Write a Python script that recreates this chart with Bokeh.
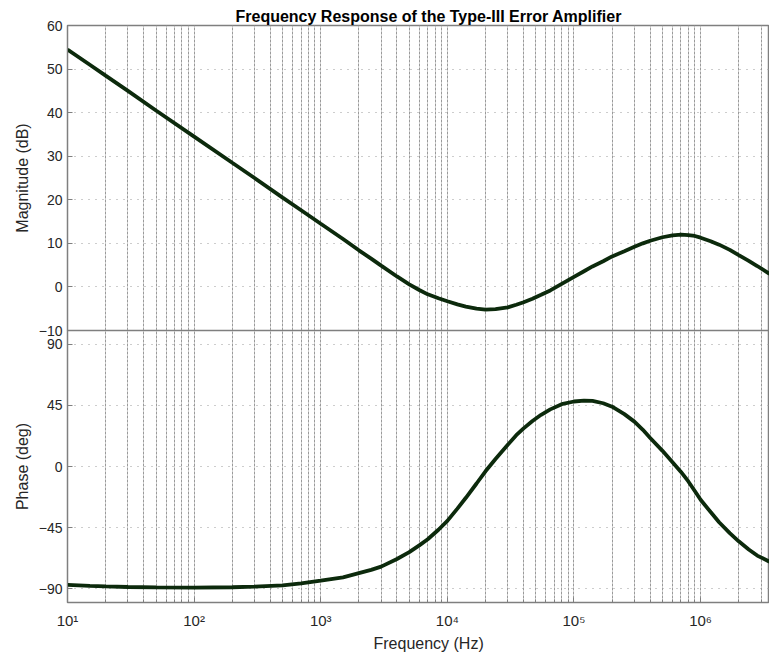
from bokeh.plotting import figure
from bokeh.layouts import column
from bokeh.models import FixedTicker, Title, Range1d
from bokeh.embed import file_html
from bokeh.resources import INLINE

# Bode data of the Type-III compensator
freq_hz = [10, 15, 20, 30, 50, 100, 200, 300, 500, 700,
           1e3, 1.5e3, 2e3, 2.5e3, 3e3, 4e3, 5e3, 6e3, 7e3, 8.5e3,
           1e4, 1.2e4, 1.4e4, 1.7e4, 2e4, 2.4e4, 3e4, 3.5e4, 4e4, 4.7e4,
           5.5e4, 6.5e4, 8e4, 1e5, 1.2e5, 1.4e5, 1.7e5, 2e5, 2.5e5, 3e5,
           3.5e5, 4e5, 5e5, 6e5, 7e5, 8e5, 9e5, 1e6, 1.2e6, 1.4e6,
           1.7e6, 2e6, 2.4e6, 2.8e6, 3.5e6]
magnitude_db = [54.5, 51.0, 48.5, 45.0, 40.5, 34.5, 28.5, 25.0, 20.5, 17.6,
                14.5, 11.0, 8.4, 6.5, 4.9, 2.4, 0.6, -0.7, -1.7, -2.6,
                -3.3, -4.0, -4.5, -5.0, -5.2, -5.1, -4.7, -4.1, -3.5, -2.7,
                -1.8, -0.8, 0.7, 2.3, 3.6, 4.7, 5.9, 7.0, 8.2, 9.2,
                10.0, 10.6, 11.4, 11.85, 12.0, 11.9, 11.7, 11.3, 10.5, 9.7,
                8.5, 7.3, 6.0, 4.8, 3.0]
phase_deg = [-87.0, -87.8, -88.2, -88.6, -88.9, -89.0, -88.8, -88.4, -87.4, -86.0,
             -84.0, -81.5, -78.4, -76.0, -73.6, -68.0, -63.0, -58.0, -53.5, -46.5,
             -40.0, -31.0, -23.0, -12.5, -3.5, 5.5, 16.0, 23.0, 28.0, 33.5,
             38.0, 42.0, 45.8, 47.8, 48.5, 48.2, 46.5, 44.0, 38.5, 33.0,
             27.0, 21.0, 11.5, 3.2, -4.0, -11.0, -18.0, -24.5, -33.5, -41.0,
             -49.0, -55.0, -61.0, -65.5, -70.0]

x_major = [10, 100, 1e3, 1e4, 1e5, 1e6]
x_labels = ["10\u00b9", "10\u00b2", "10\u00b3", "10\u2074", "10\u2075", "10\u2076"]
x_minor = [m * d for d in x_major for m in range(2, 10) if m * d < 3.5e6]
mag_ticks = [-10, 0, 10, 20, 30, 40, 50, 60]
phase_ticks = [-90, -45, 0, 45, 90]

FONT = "Liberation Sans"
TEXT = "#262626"
FRAME = "#7f7f7f"
CURVE = "#0c2a0c"

x_range = Range1d(10, 3.5e6)


def style(p, yticks):
    p.outline_line_color = FRAME
    p.outline_line_width = 1.5
    p.background_fill_color = "white"
    for ax in p.yaxis:
        ax.ticker = FixedTicker(ticks=yticks)
        ax.axis_line_color = FRAME
        ax.major_tick_line_color = FRAME
        ax.major_tick_in = 5
        ax.major_tick_out = 0
        ax.minor_tick_line_color = None
        ax.major_label_text_font = FONT
        ax.major_label_text_font_size = "14px"
        ax.major_label_text_color = TEXT
        ax.major_label_standoff = 5
        ax.axis_label_text_font = FONT
        ax.axis_label_text_font_size = "16px"
        ax.axis_label_text_font_style = "normal"
        ax.axis_label_text_color = TEXT
        ax.axis_label_standoff = 5
    for ax in p.xaxis:
        ax.ticker = FixedTicker(ticks=x_major, minor_ticks=x_minor)
        ax.major_label_overrides = dict(zip(x_major, x_labels))
        ax.axis_line_color = FRAME
        ax.major_tick_line_color = FRAME
        ax.minor_tick_line_color = FRAME
        ax.major_tick_in = 5
        ax.major_tick_out = 0
        ax.minor_tick_in = 3
        ax.minor_tick_out = 0
        ax.major_label_text_font = FONT
        ax.major_label_text_font_size = "15px"
        ax.major_label_text_color = TEXT
        ax.major_label_standoff = 9
    p.xgrid.ticker = FixedTicker(ticks=x_major, minor_ticks=x_minor)
    p.xgrid.grid_line_color = "#9a9a9a"
    p.xgrid.grid_line_dash = "3 1"
    p.xgrid.minor_grid_line_color = "#9a9a9a"
    p.xgrid.minor_grid_line_dash = "3 1"
    p.ygrid.ticker = FixedTicker(ticks=yticks)
    p.ygrid.grid_line_color = "#9a9a9a"
    p.ygrid.grid_line_dash = "1 6"


# Magnitude panel; a few spare pixels below the frame keep the "-10" label whole
pm = figure(frame_width=702, frame_height=305, x_axis_type="log",
            x_range=x_range, y_range=Range1d(-10, 60),
            min_border_left=67, min_border_right=0, min_border_top=25,
            min_border_bottom=8, toolbar_location=None, output_backend="svg")
pm.border_fill_color = "white"
pm.title = Title(text="Frequency Response of the Type-III Error Amplifier",
                 align="left", offset=168, text_font=FONT, text_font_size="16px",
                 text_font_style="bold", text_color="#000000", standoff=2)
pm.xaxis.visible = False
pm.yaxis.axis_label = "Magnitude (dB)"
style(pm, mag_ticks)
pm.line(freq_hz, magnitude_db, line_width=3.8, line_color=CURVE)

# Phase panel, pulled up over those spare pixels with a transparent border
pp = figure(frame_width=702, frame_height=272, x_axis_type="log",
            x_range=x_range, y_range=Range1d(-100, 100),
            min_border_left=67, min_border_right=0, min_border_top=0,
            min_border_bottom=0, toolbar_location=None, output_backend="svg",
            margin=(-8, 0, 0, 0))
pp.border_fill_alpha = 0.0
pp.yaxis.axis_label = "Phase (deg)"
style(pp, phase_ticks)
pp.add_layout(Title(text="Frequency  (Hz)", align="left", offset=306,
                    text_font=FONT, text_font_size="16px",
                    text_font_style="normal", text_color=TEXT, standoff=2), "below")
pp.line(freq_hz, phase_deg, line_width=3.8, line_color=CURVE)

layout = column(pm, pp, spacing=0)
open("out.html", "w").write(file_html(layout, INLINE))
